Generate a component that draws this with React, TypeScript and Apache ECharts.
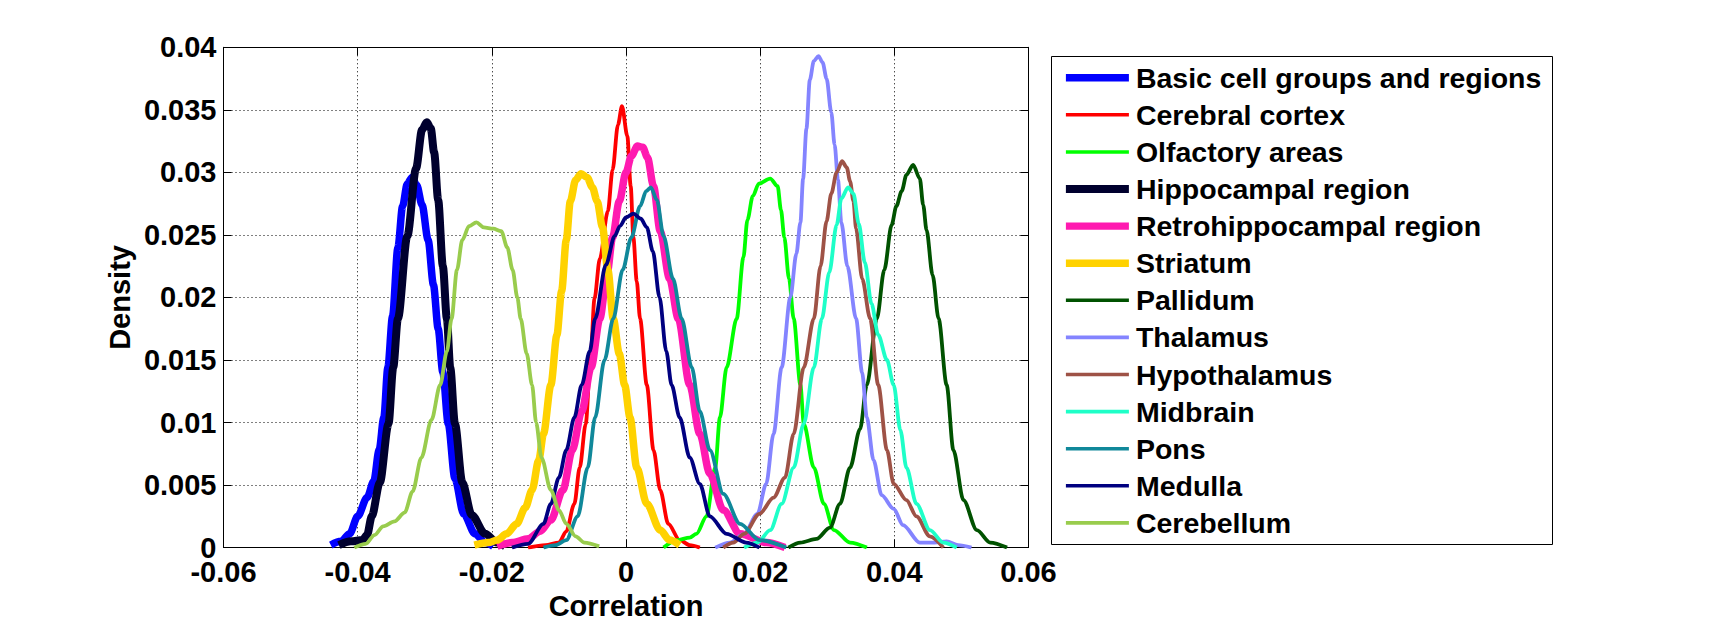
import React, { useEffect, useRef } from "react";
import * as echarts from "echarts";

// ---- data (x = correlation, y = density) ----
const seriesNames = [
  "Basic cell groups and regions",
  "Cerebral cortex",
  "Olfactory areas",
  "Hippocampal region",
  "Retrohippocampal region",
  "Striatum",
  "Pallidum",
  "Thalamus",
  "Hypothalamus",
  "Midbrain",
  "Pons",
  "Medulla",
  "Cerebellum",
];

const basicCellGroups = [
  [-0.044, 0.0002], [-0.0425, 0.0005], [-0.0412, 0.0011], [-0.04, 0.0025], [-0.0386, 0.004],
  [-0.0376, 0.0053], [-0.0368, 0.0078], [-0.0361, 0.0104], [-0.0355, 0.0144], [-0.0348, 0.0185],
  [-0.034, 0.024], [-0.0333, 0.0273], [-0.0326, 0.0291], [-0.0319, 0.0296], [-0.0312, 0.029],
  [-0.0304, 0.0274], [-0.0295, 0.0246], [-0.0287, 0.021], [-0.028, 0.0175], [-0.0273, 0.014],
  [-0.0265, 0.0099], [-0.0255, 0.0055], [-0.0242, 0.0027], [-0.0225, 0.0011], [-0.021, 0.0004],
  [-0.0198, 0.0001],
];
const cerebralCortex = [
  [-0.0146, 0.0], [-0.012, 0.0002], [-0.01, 0.0004], [-0.0089, 0.0013], [-0.0077, 0.0035],
  [-0.0069, 0.0064], [-0.006, 0.0099], [-0.0053, 0.015], [-0.0047, 0.0199], [-0.0039, 0.0231],
  [-0.0027, 0.0269], [-0.002, 0.0302], [-0.0012, 0.0338], [-0.0006, 0.0353], [0.0002, 0.0329],
  [0.0007, 0.0289], [0.0011, 0.0248], [0.0016, 0.0213], [0.0021, 0.0183], [0.0031, 0.013],
  [0.0041, 0.0078], [0.0051, 0.0046], [0.0063, 0.0019], [0.008, 0.0006], [0.0095, 0.0002],
  [0.011, 0.0],
];
const olfactoryAreas = [
  [0.0056, 0.0], [0.0076, 0.0006], [0.0095, 0.0008], [0.0105, 0.0011], [0.012, 0.0025],
  [0.0133, 0.0064], [0.014, 0.0104], [0.015, 0.0144], [0.0165, 0.0183], [0.0175, 0.0232],
  [0.0181, 0.0262], [0.0189, 0.0281], [0.0198, 0.0291], [0.0215, 0.0295], [0.0226, 0.0289],
  [0.0231, 0.027], [0.0236, 0.0248], [0.0243, 0.0215], [0.025, 0.0183], [0.026, 0.013],
  [0.0265, 0.0099], [0.028, 0.0064], [0.0295, 0.0035], [0.031, 0.0014], [0.0334, 0.0004],
  [0.0359, 0.0],
];
const hippocampalRegion = [
  [-0.0428, 0.0002], [-0.041, 0.0005], [-0.0393, 0.0006], [-0.0386, 0.001], [-0.0379, 0.0025],
  [-0.0367, 0.0052], [-0.0354, 0.0099], [-0.0347, 0.0144], [-0.034, 0.0183], [-0.0326, 0.0249],
  [-0.0313, 0.0303], [-0.0304, 0.0334], [-0.0297, 0.034], [-0.0291, 0.0335], [-0.0286, 0.0316],
  [-0.028, 0.0278], [-0.0273, 0.0225], [-0.0267, 0.0183], [-0.0262, 0.0144], [-0.0255, 0.0099],
  [-0.0244, 0.0052], [-0.023, 0.0026], [-0.021, 0.0011], [-0.0192, 0.0004], [-0.018, 0.0001],
];
const retrohippocampalRegion = [
  [-0.0192, 0.0001], [-0.017, 0.0004], [-0.0146, 0.0007], [-0.0128, 0.0013], [-0.0112, 0.0022],
  [-0.0094, 0.0046], [-0.008, 0.0078], [-0.0066, 0.0109], [-0.0052, 0.0144], [-0.0039, 0.0183],
  [-0.0028, 0.022], [-0.002, 0.0248], [-0.001, 0.0277], [0.0, 0.03], [0.0008, 0.0313],
  [0.0017, 0.0321], [0.0025, 0.032], [0.0032, 0.0312], [0.0041, 0.0289], [0.0051, 0.0253],
  [0.0065, 0.0215], [0.0078, 0.0183], [0.0095, 0.013], [0.011, 0.0091], [0.0125, 0.0059],
  [0.0145, 0.003], [0.017, 0.0011], [0.0209, 0.0004], [0.0237, 0.0],
];
const striatum = [
  [-0.0226, 0.0002], [-0.0205, 0.0004], [-0.0192, 0.0006], [-0.0178, 0.0011], [-0.0163, 0.0019],
  [-0.015, 0.0032], [-0.014, 0.0046], [-0.013, 0.007], [-0.0123, 0.0091], [-0.0112, 0.013],
  [-0.0103, 0.017], [-0.0096, 0.0205], [-0.0089, 0.0246], [-0.0083, 0.0277], [-0.0075, 0.0294],
  [-0.0067, 0.0299], [-0.0058, 0.0296], [-0.005, 0.0288], [-0.0043, 0.0277], [-0.0035, 0.0256],
  [-0.0027, 0.0222], [-0.0019, 0.0183], [-0.001, 0.0155], [-0.0002, 0.013], [0.0006, 0.0104],
  [0.0016, 0.0064], [0.0031, 0.0035], [0.0051, 0.0014], [0.0065, 0.0006], [0.008, 0.0002],
];
const pallidum = [
  [0.0242, 0.0], [0.026, 0.0004], [0.0284, 0.0007], [0.0304, 0.0016], [0.0319, 0.0035],
  [0.0334, 0.0064], [0.0349, 0.0095], [0.0359, 0.013], [0.0374, 0.0183], [0.0385, 0.0222],
  [0.0396, 0.0258], [0.0403, 0.0273], [0.0411, 0.0285], [0.0418, 0.0298], [0.0428, 0.0306],
  [0.0438, 0.0295], [0.0443, 0.0274], [0.0448, 0.0254], [0.0457, 0.0218], [0.0466, 0.0183],
  [0.0478, 0.013], [0.0488, 0.0078], [0.0503, 0.0038], [0.0523, 0.0014], [0.0543, 0.0004],
  [0.0568, 0.0],
];
const thalamus = [
  [0.0133, 0.0], [0.0155, 0.0004], [0.0176, 0.0011], [0.0196, 0.0027], [0.0209, 0.0051],
  [0.022, 0.0091], [0.0232, 0.0144], [0.0245, 0.02], [0.0254, 0.0235], [0.026, 0.026],
  [0.0264, 0.0295], [0.0269, 0.0335], [0.0274, 0.0374], [0.028, 0.0389], [0.0287, 0.0393],
  [0.0293, 0.0388], [0.0299, 0.0375], [0.0306, 0.0348], [0.0311, 0.0322], [0.0316, 0.0294],
  [0.0321, 0.026], [0.033, 0.0225], [0.0343, 0.0183], [0.0352, 0.014], [0.0359, 0.0104],
  [0.0369, 0.007], [0.0381, 0.0042], [0.0399, 0.0031], [0.0413, 0.0018], [0.0438, 0.0004],
  [0.046, 0.0004], [0.0478, 0.0005], [0.0495, 0.0002], [0.0515, 0.0],
];
const hypothalamus = [
  [0.0145, 0.0], [0.016, 0.0004], [0.0176, 0.0011], [0.0199, 0.0027], [0.022, 0.004],
  [0.0237, 0.0056], [0.025, 0.0091], [0.0265, 0.0144], [0.028, 0.0183], [0.029, 0.0225],
  [0.0299, 0.0261], [0.0306, 0.0283], [0.0314, 0.03], [0.0322, 0.0309], [0.0329, 0.0304],
  [0.0334, 0.0293], [0.0339, 0.0277], [0.0343, 0.0255], [0.0352, 0.0215], [0.0364, 0.0183],
  [0.0376, 0.013], [0.0389, 0.0078], [0.0399, 0.0051], [0.0418, 0.0038], [0.0433, 0.0025],
  [0.0453, 0.0009], [0.0473, 0.0],
];
const midbrain = [
  [0.0176, 0.0], [0.0196, 0.0004], [0.0215, 0.0014], [0.0232, 0.0035], [0.025, 0.0064],
  [0.0265, 0.0099], [0.028, 0.0144], [0.0292, 0.0183], [0.0303, 0.022], [0.0314, 0.0258],
  [0.0321, 0.0279], [0.0331, 0.0288], [0.0339, 0.0283], [0.0347, 0.0259], [0.0356, 0.0228],
  [0.0366, 0.0195], [0.0376, 0.017], [0.0389, 0.015], [0.0399, 0.013], [0.0409, 0.0094],
  [0.0418, 0.0064], [0.0433, 0.0035], [0.0453, 0.0014], [0.0473, 0.0004], [0.0493, 0.0],
];
const pons = [
  [-0.0123, 0.0], [-0.0105, 0.0002], [-0.0089, 0.0006], [-0.0072, 0.0025], [-0.0057, 0.0064],
  [-0.0046, 0.0104], [-0.0032, 0.015], [-0.0019, 0.0183], [-0.0005, 0.0222], [0.0008, 0.0248],
  [0.0021, 0.0273], [0.003, 0.0285], [0.0037, 0.0288], [0.0046, 0.0278], [0.0056, 0.0249],
  [0.007, 0.0215], [0.0083, 0.0183], [0.0098, 0.0144], [0.011, 0.0109], [0.0125, 0.0078],
  [0.0145, 0.0043], [0.017, 0.0019], [0.0199, 0.0006], [0.0239, 0.0],
];
const medulla = [
  [-0.017, 0.0], [-0.0146, 0.0003], [-0.0123, 0.0019], [-0.0112, 0.0035], [-0.01, 0.0056],
  [-0.0089, 0.0078], [-0.0077, 0.0104], [-0.0066, 0.013], [-0.0054, 0.0157], [-0.0046, 0.0183],
  [-0.003, 0.0226], [-0.0017, 0.0249], [-0.0009, 0.0257], [0.0, 0.0264], [0.0011, 0.0267],
  [0.0022, 0.0263], [0.0031, 0.0256], [0.004, 0.0237], [0.005, 0.02], [0.006, 0.0157],
  [0.0068, 0.013], [0.008, 0.0104], [0.0095, 0.0072], [0.011, 0.0051], [0.0125, 0.0025],
  [0.015, 0.0011], [0.0179, 0.0004], [0.0199, 0.0],
];
const cerebellum = [
  [-0.0405, 0.0], [-0.0388, 0.0003], [-0.0375, 0.001], [-0.0362, 0.0017], [-0.0345, 0.0021],
  [-0.033, 0.0028], [-0.0318, 0.0045], [-0.0305, 0.0072], [-0.029, 0.0102], [-0.0277, 0.013],
  [-0.0267, 0.0157], [-0.026, 0.0183], [-0.0252, 0.0222], [-0.0244, 0.0246], [-0.0234, 0.0257],
  [-0.0223, 0.026], [-0.0212, 0.0256], [-0.0198, 0.0255], [-0.0186, 0.0253], [-0.0177, 0.024],
  [-0.0169, 0.0222], [-0.0162, 0.02], [-0.0157, 0.0183], [-0.0148, 0.0155], [-0.014, 0.013],
  [-0.0134, 0.01], [-0.0126, 0.0072], [-0.0112, 0.0046], [-0.01, 0.003], [-0.0089, 0.0019],
  [-0.0075, 0.0009], [-0.0062, 0.0004], [-0.004, 0.0001],
];

const seriesData = [
  basicCellGroups, cerebralCortex, olfactoryAreas, hippocampalRegion, retrohippocampalRegion,
  striatum, pallidum, thalamus, hypothalamus, midbrain, pons, medulla, cerebellum,
];

const xTickLabels = ["-0.06", "-0.04", "-0.02", "0", "0.02", "0.04", "0.06"];
const yTickLabels = ["0", "0.005", "0.01", "0.015", "0.02", "0.025", "0.03", "0.035", "0.04"];

// ---- styles ----
const colors = [
  "#0000FF", "#FF0000", "#00FF00", "#00002E", "#FF1AB0", "#FFD200", "#005200",
  "#8484FF", "#9E5246", "#1EFFC8", "#10889A", "#000080", "#99CC4D",
];
const plotWidths = [7.5, 3.8, 3.8, 8, 7.5, 7.5, 3.8, 3.8, 3.8, 3.8, 3.8, 3.8, 3.8];
const legendWidths = [7.5, 3.5, 3.5, 7.8, 7.3, 7.6, 3.5, 3.6, 3.6, 3.6, 3.6, 3.6, 3.6];

const FONT = "'Liberation Sans', Arial, Helvetica, sans-serif";

export default function App() {
  const ref = useRef<HTMLDivElement>(null);

  useEffect(() => {
    if (!ref.current) return;
    const chart = echarts.init(ref.current, null, { renderer: "svg" });

    const xMin = -0.06, xMax = 0.06, xStep = 0.02;
    const yMin = 0, yMax = 0.04, yStep = 0.005;

    const textBase = {
      fontFamily: FONT,
      fontWeight: "bold" as const,
      color: "#000",
    };

    const frameAxis = (position: string) => ({
      type: "value",
      position,
      axisLine: { show: true, onZero: false, lineStyle: { color: "#000", width: 1 } },
      axisTick: { show: true, inside: true, length: 8, lineStyle: { color: "#000" } },
      axisLabel: { show: false },
      splitLine: { show: false },
    });

    const option: any = {
      animation: false,
      backgroundColor: "#fff",
      grid: { left: 223.5, top: 47.3, width: 805, height: 503.7, containLabel: false },
      xAxis: [
        {
          ...frameAxis("bottom"),
          min: xMin,
          max: xMax,
          interval: xStep,
          name: "Correlation",
          nameLocation: "middle",
          nameGap: 40,
          nameTextStyle: { ...textBase, fontSize: 29, lineHeight: 28 },
          axisLabel: {
            ...textBase,
            fontSize: 29,
            lineHeight: 20,
            margin: 14,
            formatter: (v: number) => xTickLabels[Math.round((v - xMin) / xStep)] ?? "",
          },
          splitLine: { show: true, lineStyle: { color: "#000", width: 1, type: [1, 3] } },
        },
        { ...frameAxis("top"), min: xMin, max: xMax, interval: xStep },
      ],
      yAxis: [
        {
          ...frameAxis("left"),
          min: yMin,
          max: yMax,
          interval: yStep,
          name: "Density",
          nameLocation: "middle",
          nameGap: 90,
          nameRotate: 90,
          nameTextStyle: { ...textBase, fontSize: 29, lineHeight: 28 },
          axisLabel: {
            ...textBase,
            fontSize: 29,
            lineHeight: 20,
            margin: 7,
            formatter: (v: number) => yTickLabels[Math.round((v - yMin) / yStep)] ?? "",
          },
          splitLine: { show: true, lineStyle: { color: "#000", width: 1, type: [1, 3] } },
        },
        { ...frameAxis("right"), min: yMin, max: yMax, interval: yStep },
      ],
      legend: {
        orient: "vertical",
        left: 1062,
        top: 62.7,
        padding: 0,
        itemWidth: 63,
        itemHeight: 30,
        itemGap: 7.1,
        selectedMode: false,
        textStyle: {
          ...textBase,
          fontSize: 28.5,
          lineHeight: 30,
          padding: [0, 0, 0, 2],
        },
        data: seriesNames.map((n, i) => ({
          name: n,
          itemStyle: { opacity: 0 },
          lineStyle: { width: legendWidths[i], color: colors[i], cap: "butt" },
        })),
      },
      graphic: [
        {
          type: "rect",
          left: 1051,
          top: 56,
          shape: { width: 501, height: 488 },
          style: { fill: "#fff", stroke: "#000", lineWidth: 1 },
          z: -1,
          silent: true,
        },
      ],
      series: seriesNames.map((n, i) => ({
        name: n,
        type: "line",
        data: seriesData[i],
        symbol: "none",
        showSymbol: false,
        smooth: 0.3,
        smoothMonotone: "x",
        clip: true,
        z: 2,
        lineStyle: { width: plotWidths[i], color: colors[i], cap: "butt" },
        itemStyle: { color: colors[i] },
        emphasis: { disabled: true },
      })),
    };

    chart.setOption(option);
    return () => chart.dispose();
  }, []);

  return (
    <div
      ref={ref}
      style={{ position: "fixed", left: 0, top: 0, width: 1719, height: 625, background: "#fff" }}
    />
  );
}
